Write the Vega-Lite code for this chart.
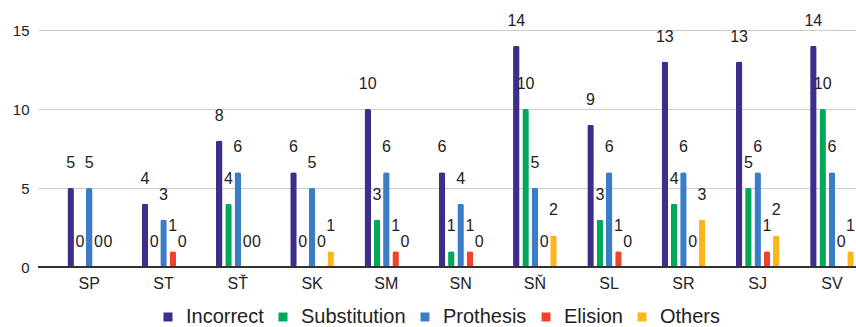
{
  "$schema": "https://vega.github.io/schema/vega-lite/v6.json",
  "width": 818,
  "height": 237,
  "autosize": {"type": "none"},
  "padding": {"left": 38, "top": 30, "right": 0, "bottom": 60},
  "config": {
    "font": "Liberation Sans",
    "view": {"stroke": null},
    "axis": {"labelFont": "Liberation Sans", "labelColor": "#222222"},
    "legend": {"labelFont": "Liberation Sans"}
  },
  "data": {
    "values": [
      {"group": "SP", "type": "Incorrect", "value": 5},
      {"group": "SP", "type": "Substitution", "value": 0},
      {"group": "SP", "type": "Prothesis", "value": 5},
      {"group": "SP", "type": "Elision", "value": 0},
      {"group": "SP", "type": "Others", "value": 0},
      {"group": "ST", "type": "Incorrect", "value": 4},
      {"group": "ST", "type": "Substitution", "value": 0},
      {"group": "ST", "type": "Prothesis", "value": 3},
      {"group": "ST", "type": "Elision", "value": 1},
      {"group": "ST", "type": "Others", "value": 0},
      {"group": "SŤ", "type": "Incorrect", "value": 8},
      {"group": "SŤ", "type": "Substitution", "value": 4},
      {"group": "SŤ", "type": "Prothesis", "value": 6},
      {"group": "SŤ", "type": "Elision", "value": 0},
      {"group": "SŤ", "type": "Others", "value": 0},
      {"group": "SK", "type": "Incorrect", "value": 6},
      {"group": "SK", "type": "Substitution", "value": 0},
      {"group": "SK", "type": "Prothesis", "value": 5},
      {"group": "SK", "type": "Elision", "value": 0},
      {"group": "SK", "type": "Others", "value": 1},
      {"group": "SM", "type": "Incorrect", "value": 10},
      {"group": "SM", "type": "Substitution", "value": 3},
      {"group": "SM", "type": "Prothesis", "value": 6},
      {"group": "SM", "type": "Elision", "value": 1},
      {"group": "SM", "type": "Others", "value": 0},
      {"group": "SN", "type": "Incorrect", "value": 6},
      {"group": "SN", "type": "Substitution", "value": 1},
      {"group": "SN", "type": "Prothesis", "value": 4},
      {"group": "SN", "type": "Elision", "value": 1},
      {"group": "SN", "type": "Others", "value": 0},
      {"group": "SŇ", "type": "Incorrect", "value": 14},
      {"group": "SŇ", "type": "Substitution", "value": 10},
      {"group": "SŇ", "type": "Prothesis", "value": 5},
      {"group": "SŇ", "type": "Elision", "value": 0},
      {"group": "SŇ", "type": "Others", "value": 2},
      {"group": "SL", "type": "Incorrect", "value": 9},
      {"group": "SL", "type": "Substitution", "value": 3},
      {"group": "SL", "type": "Prothesis", "value": 6},
      {"group": "SL", "type": "Elision", "value": 1},
      {"group": "SL", "type": "Others", "value": 0},
      {"group": "SR", "type": "Incorrect", "value": 13},
      {"group": "SR", "type": "Substitution", "value": 4},
      {"group": "SR", "type": "Prothesis", "value": 6},
      {"group": "SR", "type": "Elision", "value": 0},
      {"group": "SR", "type": "Others", "value": 3},
      {"group": "SJ", "type": "Incorrect", "value": 13},
      {"group": "SJ", "type": "Substitution", "value": 5},
      {"group": "SJ", "type": "Prothesis", "value": 6},
      {"group": "SJ", "type": "Elision", "value": 1},
      {"group": "SJ", "type": "Others", "value": 2},
      {"group": "SV", "type": "Incorrect", "value": 14},
      {"group": "SV", "type": "Substitution", "value": 10},
      {"group": "SV", "type": "Prothesis", "value": 6},
      {"group": "SV", "type": "Elision", "value": 0},
      {"group": "SV", "type": "Others", "value": 1}
    ]
  },
  "encoding": {
    "x": {
      "field": "group",
      "type": "nominal",
      "sort": null,
      "scale": {"paddingInner": 0.412, "paddingOuter": 0.213, "align": 0.93},
      "axis": {
        "title": null,
        "labelAngle": 0,
        "labelFontSize": 16,
        "labelPadding": 8,
        "ticks": false,
        "domain": false,
        "grid": false
      }
    },
    "xOffset": {
      "field": "type",
      "type": "nominal",
      "sort": ["Incorrect", "Substitution", "Prothesis", "Elision", "Others"],
      "scale": {"paddingInner": 0.3, "paddingOuter": 0}
    },
    "y": {
      "field": "value",
      "type": "quantitative",
      "scale": {"domain": [0, 15], "nice": false},
      "axis": {
        "title": null,
        "values": [0, 5, 10, 15],
        "labelFontSize": 15,
        "labelPadding": 9,
        "ticks": false,
        "domain": false,
        "gridColor": "#cccccc",
        "gridWidth": 1
      }
    }
  },
  "layer": [
    {
      "mark": {"type": "bar", "cornerRadius": 2},
      "encoding": {
        "color": {
          "field": "type",
          "type": "nominal",
          "sort": ["Incorrect", "Substitution", "Prothesis", "Elision", "Others"],
          "scale": {
            "domain": ["Incorrect", "Substitution", "Prothesis", "Elision", "Others"],
            "range": ["#3f2d8c", "#00a859", "#3a7cc6", "#f1432b", "#fdb619"]
          },
          "legend": {
            "title": null,
            "orient": "none",
            "direction": "horizontal",
            "legendX": 120,
            "legendY": 277,
            "symbolType": "square",
            "symbolSize": 81,
            "symbolStrokeWidth": 0,
            "labelFontSize": 20,
            "labelColor": "#222222",
            "columnPadding": 9,
            "labelOffset": 8
          }
        }
      }
    },
    {
      "mark": {"type": "rule", "color": "#333333", "strokeWidth": 1},
      "encoding": {"x": {"value": 0}, "x2": {"value": 818}, "y": {"datum": 0}, "xOffset": null}
    },
    {
      "mark": {"type": "text", "baseline": "middle", "align": "center", "dy": -25, "fontSize": 16, "color": "#222222"},
      "encoding": {"text": {"field": "value", "type": "quantitative"}}
    }
  ]
}
